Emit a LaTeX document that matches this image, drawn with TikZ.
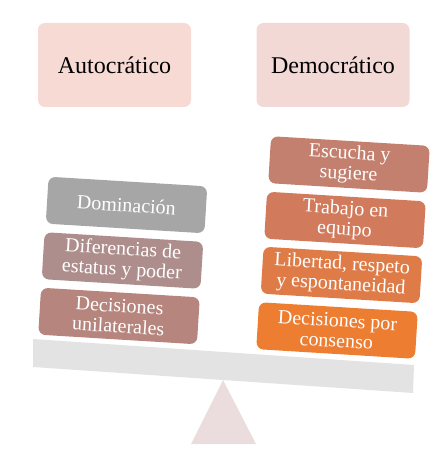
\documentclass[tikz,border=0pt]{standalone}
\usepackage{fontspec}
\setmainfont{Liberation Serif}
\definecolor{hdrA}{RGB}{248,218,212}
\definecolor{hdrD}{RGB}{242,217,213}
\definecolor{cDom}{RGB}{166,166,166}
\definecolor{cDif}{RGB}{174,142,140}
\definecolor{cUni}{RGB}{182,133,125}
\definecolor{cEsc}{RGB}{196,128,110}
\definecolor{cTra}{RGB}{210,122,92}
\definecolor{cLib}{RGB}{222,123,71}
\definecolor{cCon}{RGB}{237,125,49}
\definecolor{beam}{RGB}{227,227,227}
\definecolor{fulcrum}{RGB}{235,221,221}
\tikzset{
  header/.style={rounded corners=7pt, minimum width=153pt, minimum height=84pt, inner sep=0pt,
    font=\fontsize{24}{26}\selectfont, text=black},
  item/.style={rounded corners=7pt, minimum width=159pt, minimum height=47pt, inner sep=1pt,
    rotate=-3.5, align=center, text=white, font=\fontsize{20}{20.5}\selectfont},
}
\begin{document}
\begin{tikzpicture}[x=1pt,y=-1pt]
\useasboundingbox (0,0) rectangle (446,470);
% headers
\node[header, fill=hdrA] (auto) at (114.5,65) {Autocrático};
\node[header, fill=hdrD] (demo) at (333,65) {Democrático};
% fulcrum and beam
\fill[fulcrum] (223,380) -- (256,444) -- (191,444) -- cycle;
\fill[beam] (33,339) -- (414,365) -- (413,393) -- (33,367) -- cycle;
% left stack
\node[item, fill=cDom] (dom) at (126.5,205) {Dominación};
\node[item, fill=cDif] (dif) at (122.5,260.5) {Diferencias de\\estatus y poder};
\node[item, fill=cUni] (uni) at (119,316) {Decisiones\\unilaterales};
% right stack
\node[item, fill=cEsc] (esc) at (349,164.5) {Escucha y\\sugiere};
\node[item, fill=cTra] (tra) at (345,220) {Trabajo en\\equipo};
\node[item, fill=cLib] (lib) at (341.5,275) {Libertad, respeto\\y espontaneidad};
\node[item, fill=cCon] (con) at (337,330.5) {Decisiones por\\consenso};
\end{tikzpicture}
\end{document}
